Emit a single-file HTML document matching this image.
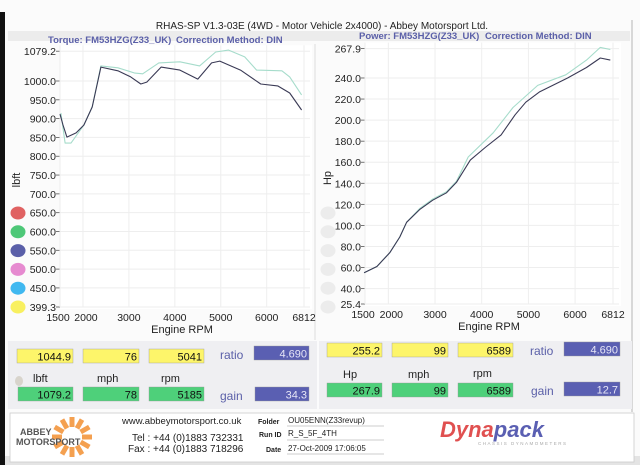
<!DOCTYPE html>
<html><head><meta charset="utf-8">
<style>
html,body{margin:0;padding:0;background:#fff;}
body{width:640px;height:465px;overflow:hidden;font-family:"Liberation Sans",sans-serif;}
svg text{font-family:"Liberation Sans",sans-serif;}
</style></head>
<body>
<svg id="chart" width="640" height="465" viewBox="0 0 640 465" xmlns="http://www.w3.org/2000/svg">
  <rect x="0" y="0" width="640" height="465" fill="#fbfbfb"/>
  <rect x="0" y="12" width="5" height="453" fill="#111"/>
  <line x1="632" y1="20" x2="632" y2="412" stroke="#ccc" stroke-width="1.5"/>
  <rect x="5" y="456" width="635" height="9" fill="#e4e4e4"/>
  <text x="322" y="29" font-size="10" text-anchor="middle" fill="#222">RHAS-SP V1.3-03E  (4WD - Motor Vehicle 2x4000) - Abbey Motorsport Ltd.</text>
  <rect x="8" y="31" width="622" height="10" fill="#ececec"/>
  <text x="48" y="43" font-size="9.5" font-weight="bold" fill="#5a5fa8">Torque: FM53HZG(Z33_UK)</text>
  <text x="176" y="43" font-size="9.5" font-weight="bold" fill="#5a5fa8">Correction Method: DIN</text>
  <text x="359" y="39" font-size="9.5" font-weight="bold" fill="#5a5fa8">Power: FM53HZG(Z33_UK)</text>
  <text x="485" y="39" font-size="9.5" font-weight="bold" fill="#5a5fa8">Correction Method: DIN</text>
  <line x1="315" y1="44" x2="315" y2="340" stroke="#ddd"/>
  <g id="torque"></g>
  <g id="power"></g>
  <g id="panel"></g>
  <g id="footer"></g>
</svg>
<script>
const NS="http://www.w3.org/2000/svg";
// ---- data ----
const torqueTicks=["1079.2","1000.0","950.0","900.0","850.0","800.0","750.0","700.0","650.0","600.0","550.0","500.0","450.0","399.3"];
const powerTicks=["267.9","240.0","220.0","200.0","180.0","160.0","140.0","120.0","100.0","80.0","60.0","40.0","25.4"];
const rpmTicks=[1500,2000,3000,4000,5000,6000,6812];
const torqueRpmA=[1500,1565,1650,1850,2020,2200,2390,2760,3040,3260,3390,3700,4110,4500,4800,4980,5430,5870,6240,6500,6760];
const torqueA=[912,883,851,862,883,931,1037,1027,1011,992,997,1037,1029,1005,1048,1053,1029,992,987,968,923];
const torqueRpmB=[1520,1610,1740,2020,2200,2390,2760,3130,3300,3650,4110,4540,4890,5170,5520,5780,6330,6500,6760];
const torqueB=[915,835,835,883,931,1040,1035,1021,1019,1048,1051,1040,1077,1082,1064,1029,1027,1011,963];
const powerRpmA=[1480,1755,2030,2245,2390,2670,2950,3245,3460,3755,4075,4415,4715,4945,5245,5840,6245,6540,6755];
const powerA=[55,61,74,89,103,115,124,131,141,162,174,186,205,217,227,240,250,259,257];
const powerRpmB=[1480,1755,2030,2245,2390,2670,2950,3245,3460,3710,4245,4670,5200,5800,6245,6540,6755];
const powerB=[55,61,74,89,103,116,125,132,142,165,188,212,233,243,257,269,267];
const legendColors=["#e06262","#4ec878","#5a5fa8","#e68ad0","#40b8f0","#f8f060"];

function el(parent,tag,attrs,text){const e=document.createElementNS(NS,tag);for(const k in attrs)e.setAttribute(k,attrs[k]);if(text!==undefined)e.textContent=text;parent.appendChild(e);return e;}

function drawChart(g,opt){
  const xS=r=>opt.x0+(r-1500)/(6812-1500)*(opt.x1-opt.x0);
  const yS=v=>opt.yTop+(opt.vMax-v)/(opt.vMax-opt.vMin)*(opt.yBot-opt.yTop);
  const bg=el(g,'rect',{x:opt.x0,y:opt.yTop-6,width:opt.x1-opt.x0+8,height:opt.yBot-opt.yTop+8,fill:'#fff'});
  
  
  opt.ticks.forEach(t=>{const v=parseFloat(t),y=yS(v);
    const gl=el(g,'line',{x1:opt.x0,y1:y,x2:opt.x1+6,y2:y,stroke:'#eeeeee','stroke-width':1});
    
    
    const tk=el(g,'line',{x1:opt.x0-4,y1:y,x2:opt.x0,y2:y,stroke:'#555','stroke-width':0.8});
    
    
    const lb=el(g,'text',{x:opt.x0-4,y:y+4,'font-size':10.5,'text-anchor':'end',fill:'#222'},t);
    
    
  });
  rpmTicks.forEach(r=>{const x=xS(r);
    const gl=el(g,'line',{x1:x,y1:opt.yTop-6,x2:x,y2:opt.yBot,stroke:'#eeeeee','stroke-width':1});
    
    
    const lb=el(g,'text',{x:r===1500?x-2:(r===2000?x+3:x),y:opt.yBot+14,'font-size':10.5,'text-anchor':'middle',fill:'#222'},String(r));
    
    
  });
  const xt=el(g,'text',{x:(opt.x0+opt.x1)/2,y:opt.yBot+26,'font-size':11,'text-anchor':'middle',fill:'#222'},'Engine RPM');
  
  
  const yt=el(g,'text',{x:0,y:0,'font-size':11,'text-anchor':'middle',fill:'#222',transform:`translate(${opt.yTitleX},${opt.yTitleY}) rotate(-90)`},opt.unit);
  
  
  opt.series.forEach(s=>{
    const d=s.rpm.map((r,i)=>(i?'L':'M')+xS(r).toFixed(1)+','+yS(s.val[i]).toFixed(1)).join(' ');
    const p=el(g,'path',{d:d,fill:'none',stroke:s.color,'stroke-width':1.1,'stroke-linejoin':'round'});
    
    
  });
  opt.legend.forEach((c,i)=>{
    const ci=el(g,'ellipse',{cx:opt.legX,cy:213+i*18.8,rx:7.5,ry:6.5,fill:c});
    
    
  });
}
drawChart(document.getElementById('torque'),{x0:60,x1:304,yTop:51.2,yBot:307,vMax:1079.2,vMin:399.3,ticks:torqueTicks,unit:'lbft',yTitleX:20,yTitleY:180,legX:18,legend:legendColors,
  series:[{rpm:torqueRpmB,val:torqueB,color:'#a6dccb',name:'torque-curve-corrected'},{rpm:torqueRpmA,val:torqueA,color:'#3a3a55',name:'torque-curve'}]});
drawChart(document.getElementById('power'),{x0:365,x1:613,yTop:48.6,yBot:304,vMax:267.9,vMin:25.4,ticks:powerTicks,unit:'Hp',yTitleX:331,yTitleY:178,legX:328,legend:['#ececec','#ececec','#ececec','#ececec','#ececec','#ececec'],
  series:[{rpm:powerRpmB,val:powerB,color:'#a6dccb',name:'power-curve-corrected'},{rpm:powerRpmA,val:powerA,color:'#3a3a55',name:'power-curve'}]});

// ---- panel ----
const panel=document.getElementById('panel');
const pbg=el(panel,'rect',{x:8,y:341,width:624,height:68,fill:'#efeff2'});


const pdiv=el(panel,'line',{x1:318,y1:341,x2:318,y2:409,stroke:'#fff','stroke-width':1.5});


const boxes=[
 [17,349,56,'#fdf56a','1044.9','max-torque-value'],[83,349,56,'#fdf56a','76','torque-mph-value'],[149,349,55,'#fdf56a','5041','torque-rpm-value'],
 [254,346,55,'#5a5fb2','4.690','torque-ratio-value'],
 [18,387,55,'#4ed07a','1079.2','corrected-torque-value'],[83,387,56,'#4ed07a','78','corrected-torque-mph'],[149,387,55,'#4ed07a','5185','corrected-torque-rpm'],
 [255,387,54,'#5a5fb2','34.3','torque-gain-value'],
 [327,343,55,'#fdf56a','255.2','max-power-value'],[392,343,56,'#fdf56a','99','power-mph-value'],[458,343,55,'#fdf56a','6589','power-rpm-value'],
 [564,342,56,'#5a5fb2','4.690','power-ratio-value'],
 [327,383,55,'#4ed07a','267.9','corrected-power-value'],[392,383,56,'#4ed07a','99','corrected-power-mph'],[458,383,55,'#4ed07a','6589','corrected-power-rpm'],
 [564,382,56,'#5a5fb2','12.7','power-gain-value']];
boxes.forEach(b=>{
  const r=el(panel,'rect',{x:b[0],y:b[1],width:b[2],height:14,fill:b[3],stroke:'#999','stroke-width':0.4});
  
  
  const t=el(panel,'text',{x:b[0]+b[2]-2,y:b[1]+11.5,'font-size':11,'text-anchor':'end',fill:b[3]==='#5a5fb2'?'#e6e6f6':'#111'},b[4]);
  
  
});
const labels=[[220,359,'ratio','#5a5fa8',12],[220,400,'gain','#5a5fa8',12],[530,355,'ratio','#5a5fa8',12],[531,395,'gain','#5a5fa8',12],
 [33,382,'lbft','#222',11],[97,382,'mph','#222',11],[161,382,'rpm','#222',11],[343,378,'Hp','#222',11],[408,378,'mph','#222',11],[473,377,'rpm','#222',11]];
labels.forEach(l=>{
  const t=el(panel,'text',{x:l[0],y:l[1],'font-size':l[4],fill:l[3]},l[2]);
  
  
});
const dot=el(panel,'ellipse',{cx:19,cy:381,rx:4,ry:5,fill:'#d8d4cc'});



// ---- footer ----
const f=document.getElementById('footer');
const fb=el(f,'rect',{x:10,y:413,width:624,height:49,fill:'#fff',stroke:'#ccc','stroke-width':0.8});


for(let i=0;i<12;i++){const a=i*Math.PI/6;
  const ray=el(f,'line',{x1:72+Math.cos(a)*10,y1:437+Math.sin(a)*10,x2:72+Math.cos(a)*20,y2:437+Math.sin(a)*20,stroke:'#f4a050','stroke-width':5});
  
  
}
const lt1=el(f,'text',{x:20,y:435,'font-size':9,'font-weight':'bold',fill:'#555'},'ABBEY');


const lt2=el(f,'text',{x:16,y:445,'font-size':9,'font-weight':'bold',fill:'#555'},'MOTORSPORT');


const ftxt=[[122,424,'www.abbeymotorsport.co.uk',9.5,'website'],[132,441,'Tel : +44 (0)1883 732331',10,'telephone'],[128,452,'Fax : +44 (0)1883 718296',10,'fax'],
 [258,424,'Folder',7,'folder-label'],[259,437,'Run ID',7,'run-id-label'],[266,452,'Date',7,'date-label'],
 [288,423,'OU05ENN(Z33revup)',8,'folder-value'],[288,436,'R_S_5F_4TH',8,'run-id-value'],[288,451,'27-Oct-2009  17:06:05',8,'date-value']];
ftxt.forEach(t=>{
  const e=el(f,'text',{x:t[0],y:t[1],'font-size':t[3],fill:'#222','font-weight':t[3]===7?'bold':'normal'},t[2]);
  
  
});
[[287,426],[287,440],[287,454]].forEach(p=>{
  const l=el(f,'line',{x1:p[0],y1:p[1],x2:384,y2:p[1],stroke:'#999','stroke-width':0.6});
  
  
});
const dy=el(f,'text',{x:440,y:437,'font-size':22,'font-weight':'bold','font-style':'italic',fill:'#e05050'});


el(dy,'tspan',{},'Dyna');
el(dy,'tspan',{fill:'#5a5fb2'},'pack');
const sub=el(f,'text',{x:478,y:445,'font-size':4.5,fill:'#aaa','letter-spacing':'1.5'},'CHASSIS DYNAMOMETERS');


</script>
</body></html>
